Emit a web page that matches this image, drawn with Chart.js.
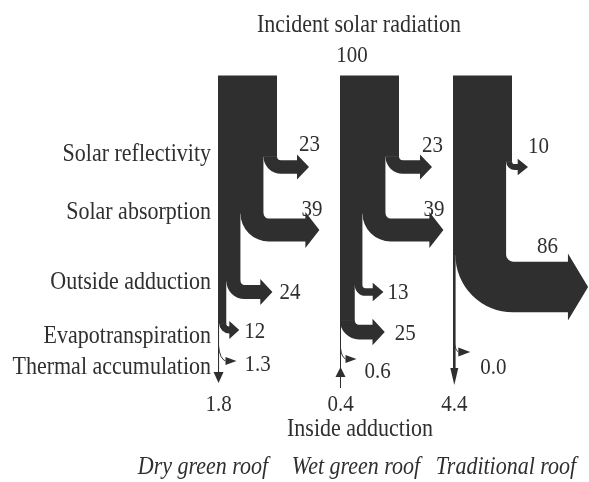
<!DOCTYPE html>
<html><head><meta charset="utf-8">
<script src="https://cdn.jsdelivr.net/npm/chart.js@4"></script>
<style>html,body{margin:0;padding:0;background:#fff}#wrap{width:589px;height:482px;position:relative}</style>
</head><body><div id="wrap"><canvas id="c"></canvas></div>
<script>
// ---------- data ----------
const roofs = ['Dry green roof', 'Wet green roof', 'Traditional roof'];
const stageLabels = ['Solar reflectivity', 'Solar absorption', 'Outside adduction', 'Evapotranspiration', 'Thermal accumulation'];
const incident = [100, 100, 100];
const reflectivity = [23, 23, 10];
const absorption = [39, 39, 86];
const outsideAdduction = [24, 13, null];
const evapotranspiration = [12, 25, null];
const thermalAccumulation = [1.3, 0.6, 0.0];
const insideAdduction = [1.8, 0.4, 4.4];
const insideDirection = ['out', 'in', 'out'];
const stageSeries = [reflectivity, absorption, outsideAdduction, evapotranspiration];

// ---------- layout (positions / sizes, not data) ----------
const PX_PER_UNIT = 0.59;
const X_MAX = 589 / PX_PER_UNIT;
const layout = {
  colStart: [218, 340, 453].map(p => p / PX_PER_UNIT),
  barTop: 76,
  branches: [
    [{yc:167, reach:32, lx:-10, ly:-22}, {yc:230, reach:56, lx:-18, ly:-20}, {yc:292, reach:32, lx:7, ly:1}, {yc:330, reach:13, lx:5, ly:2}],
    [{yc:167, reach:33, lx:-10, ly:-21}, {yc:230, reach:58, lx:-20, ly:-20}, {yc:292, reach:21, lx:4, ly:1}, {yc:332, reach:30, lx:10, ly:2}],
    [{yc:167, reach:16, lx:0, ly:-20}, {yc:287, reach:82, lx:-51, ly:-40}, null, null]
  ],
  thermal: [
    {yc:361, start:346, bend:7, len:11, half:4, lx:8, ly:4},
    {yc:359, start:348, bend:5, len:11, half:4, lx:8, ly:13},
    {yc:352, start:342, bend:4, len:12, half:4.5, lx:10, ly:16}
  ],
  inside: [
    {tip:383, head:11, half:5, end:383},
    {tip:367, head:10, half:5, end:388},
    {tip:385, head:17, half:4, end:385}
  ],
  insideLabelY: 405,
  stageLabelX: 211,
  stageLabelY: [155, 213, 283, 337, 368],
  title: {x:359, y:26}, total: {x:352, y:56},
  insideTitle: {x:360, y:430},
  roofLabelX: [203, 356, 506], roofLabelY: 468
};
const INK = '#2f2f2f';
const FONT = '22px "Liberation Serif", "Times New Roman", serif';
const NFONT = '21px "Liberation Serif", "Times New Roman", serif';
const IFONT = 'italic 22px "Liberation Serif", "Times New Roman", serif';
const SY = 1.12;

function txt(ctx, s, x, y, align, font) {
  ctx.save();
  ctx.translate(x, y);
  ctx.scale(1, SY);
  ctx.font = font || FONT;
  ctx.fillStyle = INK;
  ctx.textAlign = align || 'center';
  ctx.textBaseline = 'middle';
  ctx.fillText(s, 0, 0);
  ctx.restore();
}

const flowPlugin = {
  id: 'flow',
  afterDraw(chart) {
    const ctx = chart.ctx;
    const xs = chart.scales.x, ys = chart.scales.y;
    const wpx = v => xs.getPixelForValue(v) - xs.getPixelForValue(0);
    const Y = v => ys.getPixelForValue(v);
    ctx.save();
    ctx.fillStyle = INK; ctx.strokeStyle = INK;

    roofs.forEach((roof, i) => {
      const L = xs.getPixelForValue(layout.colStart[i]);
      let remaining = incident[i];
      let yPrev = Y(layout.barTop);
      stageSeries.forEach((series, k) => {
        const v = series[i], b = layout.branches[i][k];
        if (v == null || !b) return;
        const R = L + wpx(remaining);
        const w = wpx(v);
        const yc = Y(b.yc);
        const rIn = Math.min(7, 2 + w * 0.15);
        const cy = yc - w / 2 - rIn;
        ctx.fillStyle = INK;
        ctx.fillRect(L, yPrev - 0.5, R - L, cy - yPrev + 1);
        const cx = R + rIn, rOut = rIn + w;
        const tip = R + b.reach;
        const headLen = 9 + w * 0.22, headHalf = w / 2 + 5 + w * 0.06;
        const baseX = Math.max(cx, tip - headLen);
        ctx.beginPath();
        ctx.moveTo(R, cy);
        ctx.arc(cx, cy, rIn, Math.PI, Math.PI / 2, true);
        ctx.lineTo(baseX, yc - w / 2);
        ctx.lineTo(baseX, yc - headHalf);
        ctx.lineTo(tip, yc);
        ctx.lineTo(baseX, yc + headHalf);
        ctx.lineTo(baseX, yc + w / 2);
        ctx.lineTo(cx, yc + w / 2);
        ctx.arc(cx, cy, rOut, Math.PI / 2, Math.PI, false);
        ctx.closePath();
        ctx.fill();
        txt(ctx, String(v), tip + b.lx, yc + b.ly, 'left', NFONT);
        remaining -= v;
        yPrev = cy;
      });
      // remaining thin flow -> inside adduction
      const lw = Math.max(1, wpx(insideAdduction[i]));
      const lx = L + lw / 2;
      const ins = layout.inside[i];
      ctx.lineWidth = lw;
      ctx.beginPath();
      if (insideDirection[i] === 'out') {
        ctx.moveTo(lx, yPrev); ctx.lineTo(lx, Y(ins.tip) - ins.head + 1);
        ctx.stroke();
        ctx.beginPath();
        ctx.moveTo(lx - ins.half, Y(ins.tip) - ins.head);
        ctx.lineTo(lx + ins.half, Y(ins.tip) - ins.head);
        ctx.lineTo(lx, Y(ins.tip));
        ctx.closePath(); ctx.fill();
      } else {
        ctx.moveTo(lx, yPrev); ctx.lineTo(lx, Y(ins.end));
        ctx.stroke();
        ctx.beginPath();
        ctx.moveTo(lx - ins.half, Y(ins.tip) + ins.head);
        ctx.lineTo(lx + ins.half, Y(ins.tip) + ins.head);
        ctx.lineTo(lx, Y(ins.tip));
        ctx.closePath(); ctx.fill();
      }
      txt(ctx, insideAdduction[i].toFixed(1), lx, Y(layout.insideLabelY), 'center', NFONT);
      // thermal accumulation small arrow
      const th = layout.thermal[i];
      const tyc = Y(th.yc);
      const bx = lx + th.bend;
      ctx.lineWidth = 1;
      ctx.beginPath();
      ctx.moveTo(lx, Y(th.start));
      ctx.quadraticCurveTo(lx + th.bend * 0.2, tyc - 2, bx, tyc);
      ctx.stroke();
      ctx.beginPath();
      ctx.moveTo(bx, tyc - th.half);
      ctx.lineTo(bx + th.len, tyc);
      ctx.lineTo(bx, tyc + th.half);
      ctx.closePath(); ctx.fill();
      txt(ctx, thermalAccumulation[i].toFixed(1), bx + th.len + th.lx, tyc + th.ly, 'left', NFONT);
      // roof name
      txt(ctx, roof, layout.roofLabelX[i], Y(layout.roofLabelY), 'center', IFONT);
    });

    stageLabels.forEach((s, k) => txt(ctx, s, layout.stageLabelX, Y(layout.stageLabelY[k]), 'right'));
    txt(ctx, 'Incident solar radiation', layout.title.x, Y(layout.title.y), 'center');
    txt(ctx, String(incident[0]), layout.total.x, Y(layout.total.y), 'center', NFONT);
    txt(ctx, 'Inside adduction', layout.insideTitle.x, Y(layout.insideTitle.y), 'center');
    ctx.restore();
  }
};

new Chart(document.getElementById('c'), {
  type: 'scatter',
  data: { datasets: [{ data: [], pointRadius: 0 }] },
  options: {
    responsive: true, maintainAspectRatio: false, animation: false,
    layout: { padding: 0 },
    plugins: { legend: { display: false }, tooltip: { enabled: false } },
    scales: {
      x: { type: 'linear', min: 0, max: X_MAX, display: false },
      y: { type: 'linear', min: 0, max: 482, reverse: true, display: false }
    }
  },
  plugins: [flowPlugin]
});
</script></body></html>
